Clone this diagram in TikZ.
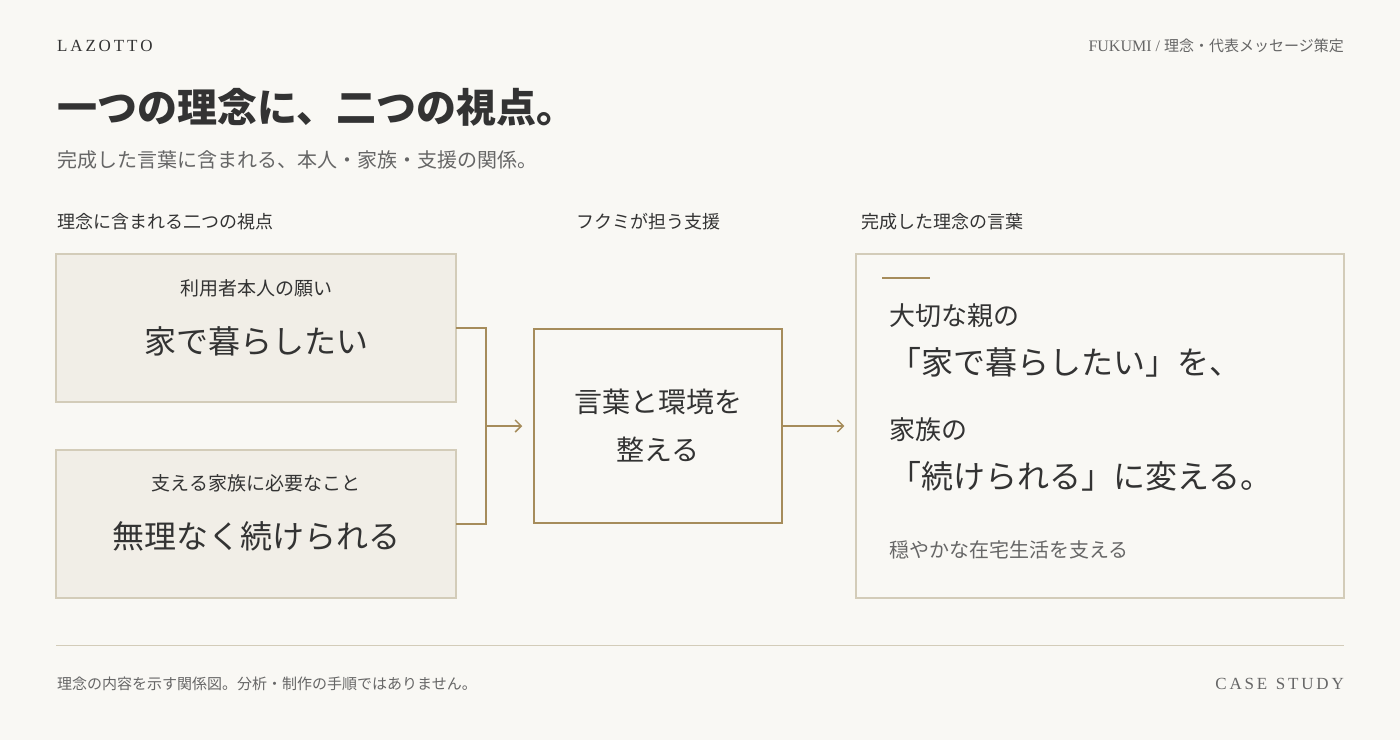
\documentclass[tikz,border=0pt]{standalone}
\usepackage{fontspec}
\setmainfont{Liberation Serif}
\newfontfamily\cjk{Noto Sans CJK JP}
\definecolor{bg}{HTML}{F9F8F4}
\definecolor{boxfill}{HTML}{F1EEE7}
\definecolor{boxline}{HTML}{D3CCB9}
\definecolor{gold}{HTML}{A68C5B}
\definecolor{ink}{HTML}{333333}
\definecolor{gray}{HTML}{666666}
\usetikzlibrary{arrows.meta}
\begin{document}
\begin{tikzpicture}[x=1pt,y=-1pt,
  t/.style={inner sep=0pt,text=ink,font=\cjk},
  fs/.style={font=\cjk\fontsize{#1}{#1}\selectfont},
  lbl/.style={t,anchor=west,fs=18},
  card/.style={draw=boxline,fill=boxfill,line width=1.2pt},
  arr/.style={draw=gold,line width=1.5pt,shorten >=11pt,-{Straight Barb[length=6pt,width=12pt]}}]
\useasboundingbox[fill=bg] (0,0) rectangle (1400,740);
\node[t,anchor=west,font=\rmfamily\fontsize{17}{17}\selectfont,text=ink] (logo) at (57,46) {L\,A\,Z\,O\,T\,T\,O\,};
\node[t,anchor=east,font=\rmfamily\fontsize{16}{16}\selectfont,text=gray] (hdr) at (1344,46) {FUKUMI / {\cjk\fontsize{15}{15}\selectfont 理念・代表メッセージ策定}};
\node[t,anchor=west,font=\cjk\bfseries\fontsize{40}{40}\selectfont] (title) at (57,107) {一つの理念に、二つの視点。};
\node[t,anchor=west,fs=20,text=gray] (sub) at (57,160) {完成した言葉に含まれる、本人・家族・支援の関係。};
\node[lbl] (l1) at (57,222) {理念に含まれる二つの視点};
\node[lbl] (l2) at (576,222) {フクミが担う支援};
\node[lbl] (l3) at (861,222) {完成した理念の言葉};
\draw[card] (56,254) rectangle (456,402);
\node[t,fs=19] (b1a) at (256,288) {利用者本人の願い};
\node[t,fs=32] (b1b) at (256,341) {家で暮らしたい};
\draw[card] (56,450) rectangle (456,598);
\node[t,fs=19] (b2a) at (256,483) {支える家族に必要なこと};
\node[t,fs=32] (b2b) at (256,536) {無理なく続けられる};
\coordinate (c1) at (456,328);
\coordinate (c2) at (456,524);
\coordinate (m) at (486,426);
\draw[gold,line width=1.5pt] (c1) -- (486,328) -- (486,524) -- (c2);
\node[draw=gold,line width=1.5pt,minimum width=248pt,minimum height=194pt,inner sep=0pt] (mid) at (658,426) {};
\node[t,fs=28,align=center] (midt) at (658,426) {言葉と環境を\\[20pt]整える};
\draw[arr] (m) -- (mid.west);
\node[draw=boxline,line width=1.2pt,minimum width=488pt,minimum height=344pt,inner sep=0pt] (right) at (1100,426) {};
\draw[arr] (mid.east) -- (right.west);
\draw[gold,line width=1.5pt] (882,278) -- (930,278);
\node[t,anchor=west,fs=26] (r1) at (889,316) {大切な親の};
\node[t,anchor=west,fs=32] (r2) at (889,362) {「家で暮らしたい」を、};
\node[t,anchor=west,fs=26] (r3) at (889,430) {家族の};
\node[t,anchor=west,fs=32] (r4) at (889,476) {「続けられる」に変える。};
\node[t,anchor=west,fs=20,text=gray] (r5) at (889,550) {穏やかな在宅生活を支える};
\draw[boxline,line width=1pt] (56,645) -- (1344,645);
\node[t,anchor=west,fs=15,text=gray] (foot) at (57,684) {理念の内容を示す関係図。分析・制作の手順ではありません。};
\node[t,anchor=east,font=\rmfamily\fontsize{17}{17}\selectfont,text=gray] (cs) at (1344,684) {C\,A\,S\,E\ \ S\,T\,U\,D\,Y};
\end{tikzpicture}
\end{document}
